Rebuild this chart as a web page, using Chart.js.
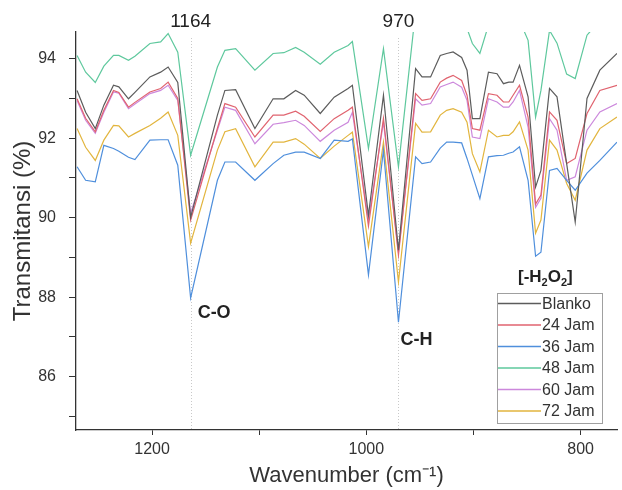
<!DOCTYPE html>
<html>
<head>
<meta charset="utf-8">
<script src="https://cdn.jsdelivr.net/npm/chart.js@4.4.1/dist/chart.umd.min.js"></script>
<style>
  html, body { margin: 0; padding: 0; background: #fff; }
  #wrap { width: 622px; height: 490px; }
</style>
</head>
<body>
<div id="wrap"><canvas id="ftir" width="622" height="490"></canvas></div>
<script>
    // ---------------------------
    // Spectra
    // ---------------------------
    const wavenumbers = [1270,1262,1253,1245,1236,1231,1222,1216,1202,1192,1185,1176,1164,1139,1132,1122,1104,1087,1077,1066,1058,1043,1030,1017,1013,998,984,970,954,948,940,931,925,919,911,906,901,894,886,878,872,867,863,857,849,842,837,829,822,813,805,794,782,766];

    const blanko = [93.20,92.65,92.24,92.83,93.33,93.29,92.99,93.15,93.54,93.66,93.79,93.40,90.01,92.58,93.20,93.22,92.24,92.99,92.99,93.20,93.08,92.62,93.03,93.25,93.33,90.06,93.08,89.18,93.75,93.54,93.54,94.08,94.13,94.17,94.03,93.71,92.49,92.49,93.66,93.62,93.37,93.41,93.41,93.83,93.04,90.77,91.19,93.25,93.04,91.36,89.89,93.00,93.71,94.13];
    const jam24 = [92.99,92.50,92.16,92.70,93.20,93.15,92.78,92.90,93.16,93.25,93.41,93.00,89.94,92.25,92.87,92.78,92.03,92.58,92.58,92.68,92.55,92.17,92.49,92.70,92.78,89.79,92.50,89.06,93.12,92.95,92.99,93.41,93.51,93.58,93.45,93.08,92.24,92.20,93.12,93.08,92.91,92.91,93.08,93.33,92.53,90.34,90.57,92.66,92.45,91.36,91.49,92.62,93.20,93.33];
    const jam36 = [91.28,90.94,90.90,91.82,91.74,91.67,91.52,91.46,91.95,91.96,91.96,91.32,87.98,90.94,91.40,91.40,90.94,91.36,91.57,91.65,91.65,91.49,91.95,91.92,91.98,88.56,91.70,87.37,91.53,91.36,91.40,91.75,91.90,91.90,91.88,91.49,91.07,90.48,91.53,91.56,91.57,91.62,91.65,91.78,90.94,89.03,89.13,91.19,91.24,90.94,90.69,91.12,91.44,91.90];
    const jam48 = [94.08,93.66,93.40,93.81,94.08,94.08,93.96,94.06,94.38,94.42,94.63,94.16,91.57,93.79,94.21,94.25,93.71,94.13,94.15,94.28,94.16,93.86,94.16,94.33,94.43,91.74,94.25,91.28,95.20,95.35,95.40,95.45,95.45,95.40,95.30,94.76,94.38,94.13,94.84,95.09,95.16,95.16,95.09,94.96,94.46,92.53,93.20,94.71,94.39,93.61,93.50,94.59,94.96,95.21];
    const jam60 = [92.95,92.45,92.12,92.65,93.16,93.13,92.74,92.86,93.12,93.20,93.33,92.95,90.11,92.20,92.78,92.70,91.86,92.35,92.39,92.45,92.32,91.92,92.20,92.40,92.65,89.94,92.40,89.13,92.99,92.83,92.87,93.29,93.35,93.41,93.28,92.95,92.03,91.99,92.99,92.91,92.78,92.78,92.91,93.20,92.28,90.26,90.49,92.49,92.20,90.94,91.03,92.20,92.66,92.87];
    const jam72 = [92.24,91.77,91.44,91.95,92.32,92.31,92.03,92.12,92.32,92.50,92.66,92.07,89.36,91.70,92.16,92.24,91.28,91.90,91.90,91.99,91.85,91.49,91.80,92.07,92.15,89.27,91.90,88.38,92.37,92.15,92.16,92.58,92.70,92.74,92.65,92.40,91.61,91.15,92.20,92.03,92.07,92.07,92.16,92.41,91.70,89.61,89.94,91.95,91.70,90.86,90.44,91.70,92.24,92.53];

    const seriesLabels = ["Blanko", "24 Jam", "36 Jam", "48 Jam", "60 Jam", "72 Jam"];
    const seriesValues = [blanko, jam24, jam36, jam48, jam60, jam72];
    const seriesColors = ["#5c5c5c", "#e0636f", "#4f8fdc", "#5ec89d", "#cc88dc", "#e2b53e"];

    const xTicks = [1200, 1100, 1000, 900, 800];
    const xTickLabels = [1200, 1000, 800];
    const yTicks = [85, 86, 87, 88, 89, 90, 91, 92, 93, 94];
    const yTickLabels = [86, 88, 90, 92, 94];

    const peakMarks = [1164, 970];
    const FONT = '"Liberation Sans", Arial, sans-serif';

    // ---------------------------
    // Marker lines, labels, boxed legend
    // ---------------------------
    const annotations = {
      id: "annotations",
      beforeDatasetsDraw(chart) {
        const { ctx, chartArea, scales } = chart;
        ctx.save();
        ctx.strokeStyle = "#c9c9c9";
        ctx.lineWidth = 1;
        ctx.setLineDash([1, 2]);
        peakMarks.forEach(w => {
          const px = Math.round(scales.x.getPixelForValue(w)) + 0.5;
          ctx.beginPath();
          ctx.moveTo(px, chartArea.top + 6);
          ctx.lineTo(px, chartArea.bottom);
          ctx.stroke();
        });
        ctx.restore();
      },
      afterDatasetsDraw(chart) {
        const { ctx, scales } = chart;
        ctx.save();
        ctx.fillStyle = "#222";
        ctx.textBaseline = "alphabetic";

        // peak positions on top
        ctx.font = "19px " + FONT;
        ctx.textAlign = "center";
        peakMarks.forEach(w => {
          ctx.fillText(String(w), scales.x.getPixelForValue(w), 27);
        });

        // band labels
        ctx.font = "bold 18px " + FONT;
        ctx.textAlign = "left";
        ctx.fillText("C-O", scales.x.getPixelForValue(1164) + 7, 318);
        ctx.fillText("C-H", scales.x.getPixelForValue(970) + 2, 345);

        // [-H2O2] with subscripts
        let x = 518;
        const base = 282;
        const part = (t, sub) => {
          ctx.font = sub ? "bold 11px " + FONT : "bold 17px " + FONT;
          ctx.fillText(t, x, sub ? base + 4 : base);
          x += ctx.measureText(t).width;
        };
        part("[-H", false); part("2", true); part("O", false); part("2", true); part("]", false);

        // legend box
        const lx = 497, ly = 293, lw = 105, lh = 130, row = 21.5;
        ctx.fillStyle = "#fff";
        ctx.fillRect(lx, ly, lw, lh);
        ctx.strokeStyle = "#a0a0a0";
        ctx.lineWidth = 1;
        ctx.strokeRect(lx + 0.5, ly + 0.5, lw, lh);
        ctx.font = "16px " + FONT;
        ctx.textBaseline = "middle";
        chart.data.datasets.forEach((ds, i) => {
          const cy = ly + 10.5 + i * row;
          ctx.strokeStyle = ds.borderColor;
          ctx.lineWidth = 1.3;
          ctx.beginPath();
          ctx.moveTo(lx + 1, cy);
          ctx.lineTo(lx + 44, cy);
          ctx.stroke();
          ctx.fillStyle = "#333";
          ctx.fillText(ds.label, lx + 45, cy + 1);
        });
        ctx.restore();
      }
    };

    const datasets = seriesLabels.map((label, i) => ({
      label: label,
      data: wavenumbers.map((w, j) => ({ x: w, y: seriesValues[i][j] })),
      borderColor: seriesColors[i],
      backgroundColor: seriesColors[i],
      borderWidth: 1.2,
      pointRadius: 0,
      tension: 0,
      fill: false
    }));

    new Chart(document.getElementById("ftir"), {
      type: "line",
      data: { datasets: datasets },
      plugins: [annotations],
      options: {
        responsive: false,
        animation: false,
        layout: { padding: { top: 32, right: 5, left: 0, bottom: 0 } },
        plugins: { legend: { display: false }, tooltip: { enabled: false } },
        scales: {
          x: {
            type: "linear",
            reverse: true,
            min: 766,
            max: 1271,
            afterBuildTicks: s => { s.ticks = xTicks.map(v => ({ value: v })); },
            afterFit: s => { s.height = 60; },
            ticks: {
              padding: 5,
              color: "#333",
              font: { family: FONT, size: 16 },
              maxRotation: 0,
              callback: v => xTickLabels.includes(v) ? String(v) : ""
            },
            grid: { display: true, drawOnChartArea: false, drawTicks: true, tickLength: 5, color: "#333", lineWidth: 1 },
            border: { display: true, color: "#333", width: 1.3 },
            title: {
              display: true,
              text: "Wavenumber (cm\u207B\u00B9)",
              color: "#333",
              font: { family: FONT, size: 22 },
              padding: { top: 0, bottom: 1 }
            }
          },
          y: {
            min: 84.66,
            max: 94.67,
            afterBuildTicks: s => { s.ticks = yTicks.map(v => ({ value: v })); },
            afterFit: s => { s.width = 76; },
            ticks: {
              padding: 13,
              color: "#333",
              font: { family: FONT, size: 16 },
              callback: v => yTickLabels.includes(v) ? String(v) : ""
            },
            grid: { display: true, drawOnChartArea: false, drawTicks: true, tickLength: 7, color: "#333", lineWidth: 1 },
            border: { display: true, color: "#333", width: 1.3 },
            title: {
              display: true,
              text: "Transmitansi (%)",
              color: "#333",
              font: { family: FONT, size: 24 },
              padding: { top: 9, bottom: 0 }
            }
          }
        }
      }
    });
</script>
</body>
</html>
